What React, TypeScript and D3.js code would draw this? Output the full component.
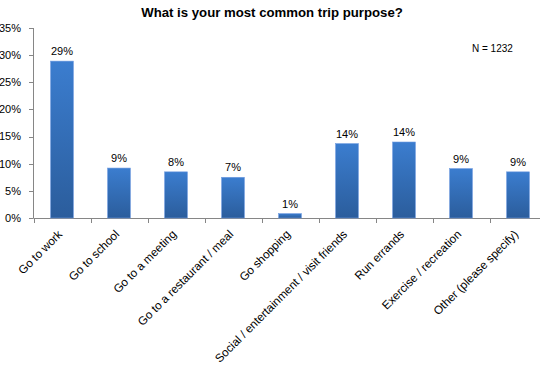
import * as d3 from 'd3'

const categories = [
  'Go to work',
  'Go to school',
  'Go to a meeting',
  'Go to a restaurant / meal',
  'Go shopping',
  'Social / entertainment / visit friends',
  'Run errands',
  'Exercise / recreation',
  'Other (please specify)',
]
const shares = [0.289, 0.092, 0.085, 0.075, 0.008, 0.137, 0.14, 0.091, 0.085]
const valueLabels = ['29%', '9%', '8%', '7%', '1%', '14%', '14%', '9%', '9%']
const yTicks = [0, 0.05, 0.1, 0.15, 0.2, 0.25, 0.3, 0.35]

const WIDTH = 540
const HEIGHT = 373
const FONT = '"Liberation Sans", Arial, sans-serif'

export default function App() {
  const x = d3
    .scaleBand<string>()
    .domain(categories)
    .range([33.5, 546.5])
    .paddingInner(0.6)
    .paddingOuter(0.3)
  const y = d3.scaleLinear().domain([0, 0.35]).range([218, 28])
  const step = x.step()
  const fmt = d3.format('.0%')

  return (
    <div style={{ position: 'fixed', left: 0, top: 0 }}>
      <svg width={WIDTH} height={HEIGHT} style={{ display: 'block', background: '#fff' }} fontFamily={FONT}>
        <defs>
          <linearGradient id="barFill" x1="0" y1="0" x2="0" y2="1">
            <stop offset="0%" stopColor="#3b7dcf" />
            <stop offset="100%" stopColor="#2b5d9c" />
          </linearGradient>
        </defs>

        <text x={272} y={17} textAnchor="middle" fontSize={13.2} fontWeight="bold" fill="#000">
          What is your most common trip purpose?
        </text>
        <text x={472} y={52} fontSize={10} fill="#000">
          N = 1232
        </text>

        {/* y axis */}
        <line x1={33.5} x2={33.5} y1={y(0.35)} y2={y(0)} stroke="#868686" />
        {yTicks.map((t) => (
          <g key={t}>
            <line x1={29} x2={33.5} y1={Math.round(y(t)) + 0.5} y2={Math.round(y(t)) + 0.5} stroke="#868686" />
            <text x={21} y={y(t)} dy="0.35em" textAnchor="end" fontSize={11} fill="#000">
              {fmt(t)}
            </text>
          </g>
        ))}

        {/* x axis */}
        <line x1={33.5} x2={WIDTH} y1={218.5} y2={218.5} stroke="#868686" />
        {d3.range(categories.length + 1).map((i) => {
          const bx = Math.round(33.5 + i * step) + 0.5
          return <line key={i} x1={bx} x2={bx} y1={218.5} y2={223} stroke="#868686" />
        })}

        {/* bars */}
        {categories.map((c, i) => {
          const bx = x(c) ?? 0
          return (
            <g key={c}>
              <rect
                x={bx}
                y={y(shares[i])}
                width={x.bandwidth()}
                height={y(0) - y(shares[i])}
                fill="url(#barFill)"
                stroke="#6f9be0"
                strokeWidth={0.6}
              />
              <text
                x={bx + x.bandwidth() / 2}
                y={y(shares[i]) - 6}
                textAnchor="middle"
                fontSize={11}
                fill="#000"
              >
                {valueLabels[i]}
              </text>
            </g>
          )
        })}

        {/* category labels */}
        {categories.map((c) => {
          const cx = (x(c) ?? 0) + x.bandwidth() / 2 + 1
          return (
            <text
              key={c}
              transform={`translate(${cx},${235}) rotate(-45)`}
              textAnchor="end"
              fontSize={11.7}
              fill="#000"
            >
              {c}
            </text>
          )
        })}
      </svg>
    </div>
  )
}
